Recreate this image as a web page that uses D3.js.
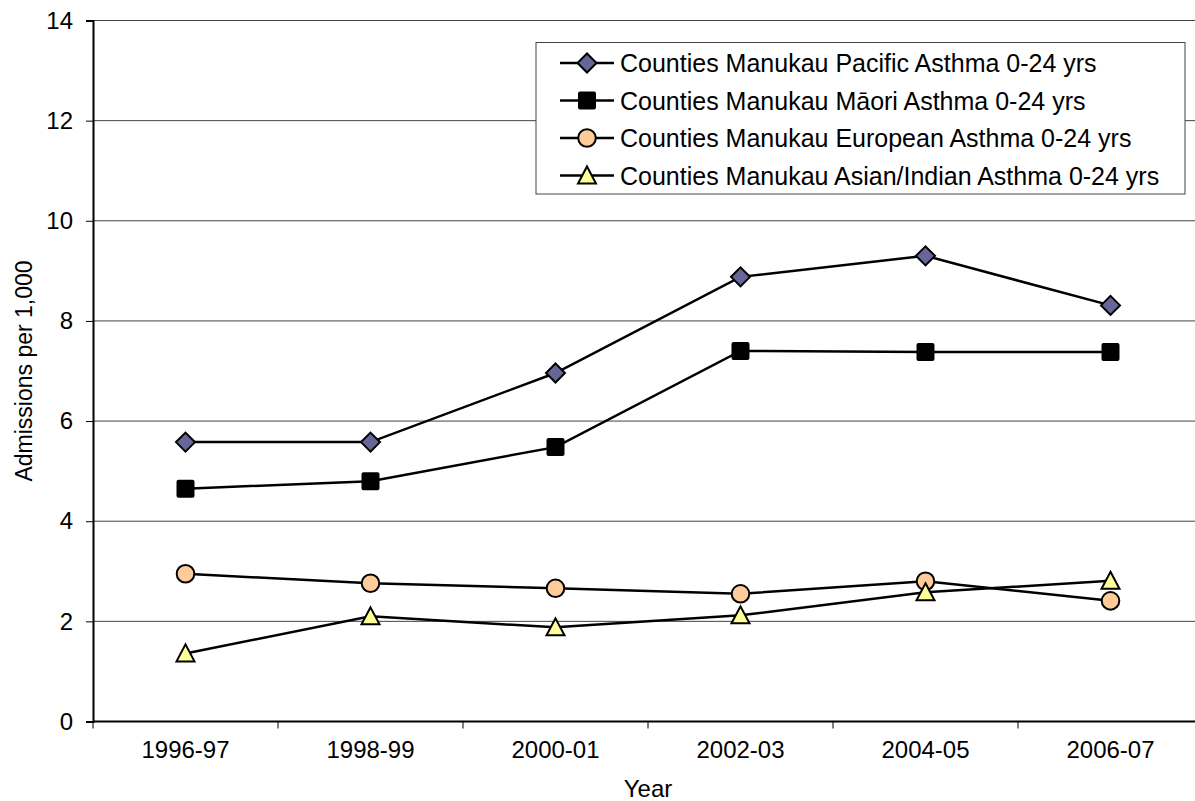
<!DOCTYPE html>
<html>
<head>
<meta charset="utf-8">
<script src="https://cdn.jsdelivr.net/npm/d3@7"></script>
<style>
  body { margin: 0; background: #fff; }
  svg { display: block; font-family: "Liberation Sans", Arial, sans-serif; }
</style>
</head>
<body>
<svg id="chart" width="1195" height="801"></svg>
<script>
// --- données ---
const years = ["1996-97", "1998-99", "2000-01", "2002-03", "2004-05", "2006-07"];
const pacific = [5.58, 5.58, 6.96, 8.88, 9.30, 8.31];
const maori = [4.65, 4.80, 5.48, 7.40, 7.38, 7.38];
const european = [2.95, 2.76, 2.66, 2.55, 2.80, 2.41];
const asian = [1.36, 2.10, 1.88, 2.12, 2.58, 2.81];
const yTicks = [0, 2, 4, 6, 8, 10, 12, 14];

const series = [
  { name: "Counties Manukau Pacific Asthma 0-24 yrs", values: pacific, shape: "diamond", fill: "#666699" },
  { name: "Counties Manukau Māori Asthma 0-24 yrs", values: maori, shape: "square", fill: "#000000" },
  { name: "Counties Manukau European Asthma 0-24 yrs", values: european, shape: "circle", fill: "#FFCC99" },
  { name: "Counties Manukau Asian/Indian Asthma 0-24 yrs", values: asian, shape: "triangle", fill: "#FFFF99" }
];

const svg = d3.select("#chart");
const plotLeft = 93, plotRight = 1203, plotTop = 20.5, plotBottom = 721.5;
const FONT = "Liberation Sans, Arial, sans-serif";

const x = d3.scaleBand().domain(years).range([plotLeft, plotRight]);
const y = d3.scaleLinear().domain([0, 14]).range([plotBottom, plotTop]);
const cx = d => x(d) + x.bandwidth() / 2;

// grille horizontale
svg.append("g")
  .selectAll("line")
  .data(yTicks.filter(t => t > 0))
  .join("line")
  .attr("x1", plotLeft).attr("x2", plotRight)
  .attr("y1", d => y(d)).attr("y2", d => y(d))
  .attr("stroke", "#444").attr("stroke-width", 1);

// axe Y
const yAxis = svg.append("g")
  .attr("transform", `translate(${plotLeft},0)`)
  .call(d3.axisLeft(y).tickValues(yTicks).tickSize(7).tickPadding(13).tickFormat(d3.format("d")));
yAxis.select(".domain").attr("stroke", "#000").attr("stroke-width", 2);
yAxis.selectAll(".tick line").attr("stroke", "#000");
yAxis.selectAll("text").attr("font-size", 24).attr("fill", "#000").attr("font-family", FONT);

// axe X : libellés centrés, graduations entre les catégories
const xAxis = svg.append("g")
  .attr("transform", `translate(0,${plotBottom})`)
  .call(d3.axisBottom(x).tickSize(0).tickPadding(19));
xAxis.select(".domain").remove();
xAxis.selectAll("text").attr("font-size", 24).attr("fill", "#000").attr("font-family", FONT);

svg.append("line")
  .attr("x1", plotLeft).attr("x2", plotRight)
  .attr("y1", plotBottom).attr("y2", plotBottom)
  .attr("stroke", "#000").attr("stroke-width", 2);

svg.append("g")
  .selectAll("line")
  .data(years.map(d => x(d)).concat([plotRight]))
  .join("line")
  .attr("x1", d => d).attr("x2", d => d)
  .attr("y1", plotBottom).attr("y2", plotBottom + 7)
  .attr("stroke", "#000").attr("stroke-width", 1);

// titres des axes
svg.append("text")
  .attr("x", (plotLeft + plotRight) / 2).attr("y", 797)
  .attr("text-anchor", "middle").attr("font-size", 24)
  .text("Year");

svg.append("text")
  .attr("transform", `translate(32,${(plotTop + plotBottom) / 2}) rotate(-90)`)
  .attr("text-anchor", "middle").attr("font-size", 23)
  .text("Admissions per 1,000");

// marqueurs
function marker(g, shape, fill) {
  if (shape === "diamond") {
    g.append("path").attr("d", "M0,-9.5L9.5,0L0,9.5L-9.5,0Z");
  } else if (shape === "square") {
    g.append("rect").attr("x", -8).attr("y", -8).attr("width", 16).attr("height", 16).attr("rx", 1);
  } else if (shape === "circle") {
    g.append("circle").attr("r", 8.8);
  } else {
    g.append("path").attr("d", "M0,-9L9,8L-9,8Z");
  }
  g.selectAll("*").attr("fill", fill).attr("stroke", "#000").attr("stroke-width", 2)
    .attr("stroke-linejoin", "miter");
}

const line = d3.line().x((v, i) => cx(years[i])).y(v => y(v));

series.forEach(s => {
  svg.append("path")
    .attr("d", line(s.values))
    .attr("fill", "none").attr("stroke", "#000").attr("stroke-width", 2.5);
});
series.forEach(s => {
  s.values.forEach((v, i) => {
    const g = svg.append("g").attr("transform", `translate(${cx(years[i])},${y(v)})`);
    marker(g, s.shape, s.fill);
  });
});

// légende
const legend = svg.append("g");
legend.append("rect")
  .attr("x", 536).attr("y", 42.5).attr("width", 649).attr("height", 151.5)
  .attr("fill", "#fff").attr("stroke", "#444").attr("stroke-width", 1);

series.forEach((s, i) => {
  const ly = 63 + i * 37.5;
  const g = legend.append("g").attr("transform", `translate(0,${ly})`);
  g.append("line").attr("x1", 560).attr("x2", 614).attr("y1", 0).attr("y2", 0)
    .attr("stroke", "#000").attr("stroke-width", 2.5);
  const m = g.append("g").attr("transform", "translate(587,0)");
  marker(m, s.shape, s.fill);
  g.append("text").attr("x", 620).attr("y", 9).attr("font-size", 25).text(s.name);
});
</script>
</body>
</html>
